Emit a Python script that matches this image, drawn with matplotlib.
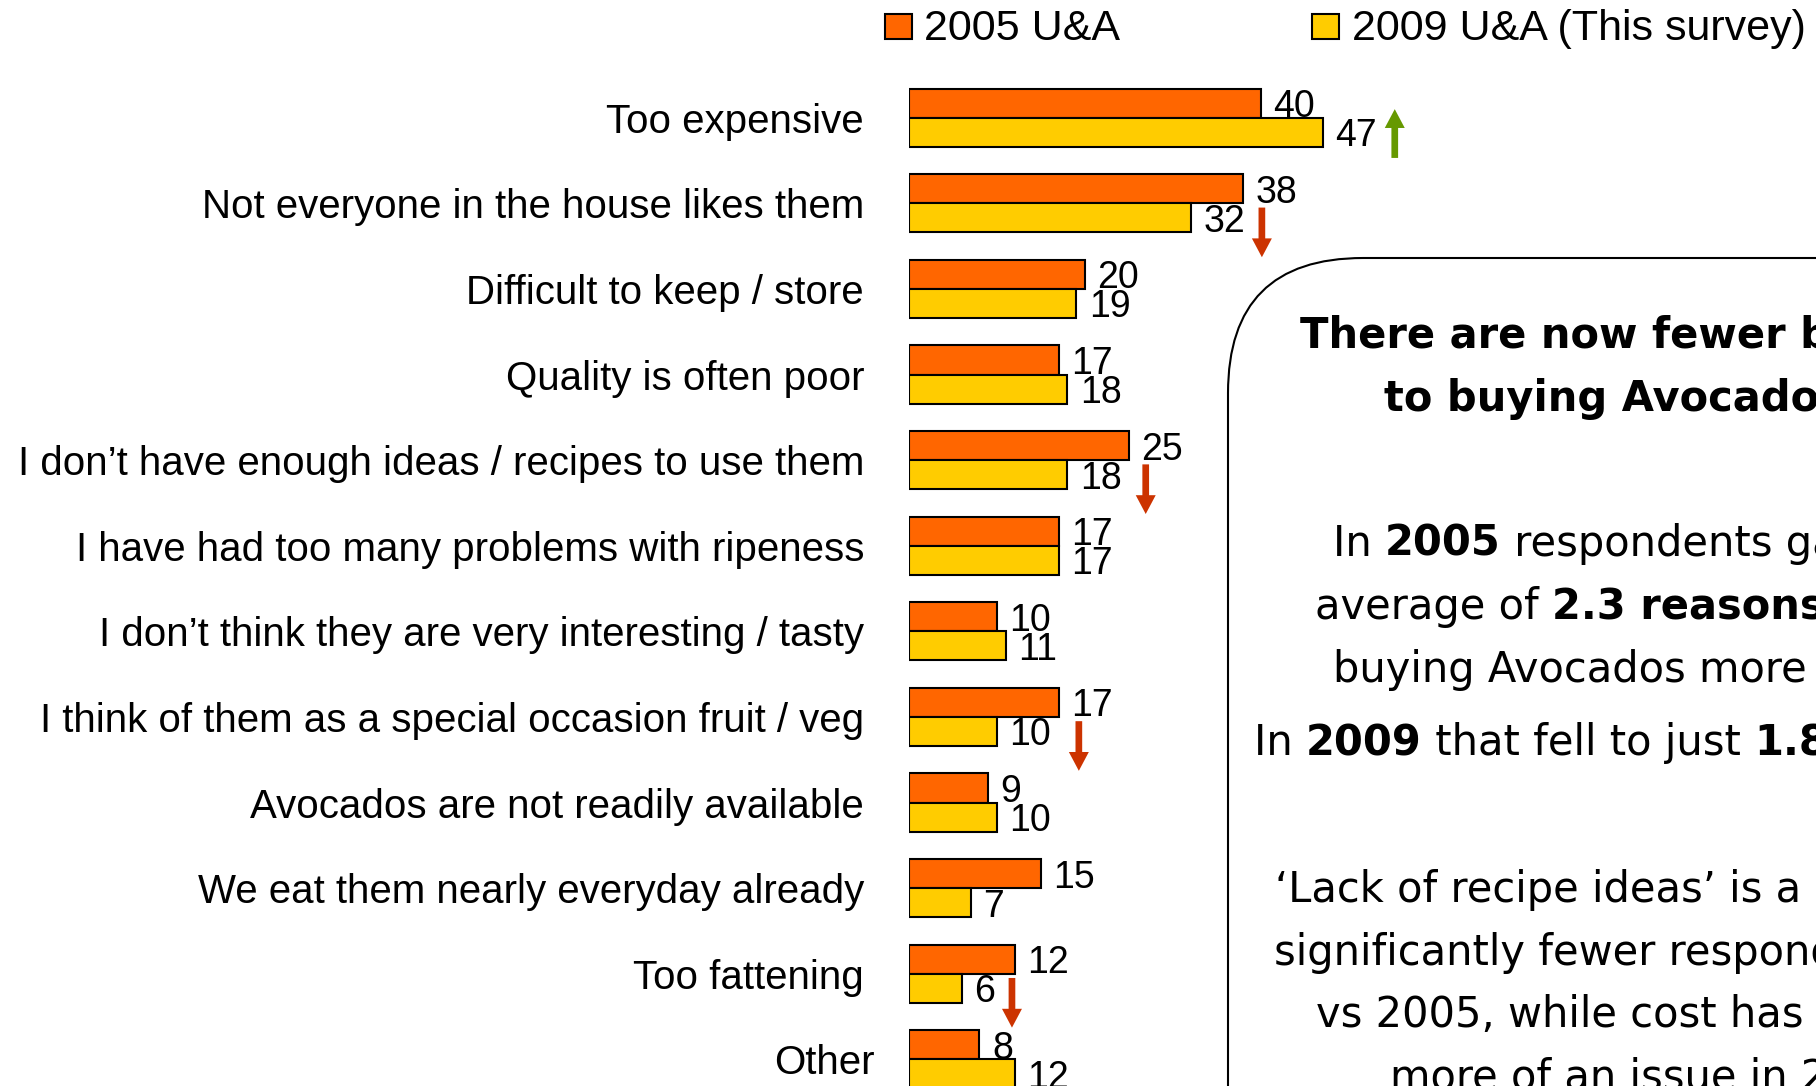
import numpy as np
import matplotlib
matplotlib.use("Agg")
import matplotlib.pyplot as plt
from matplotlib.patches import Rectangle, FancyBboxPatch, FancyArrow

# -------- data -------- #
categories = [
    "Too expensive",
    "Not everyone in the house likes them",
    "Difficult to keep / store",
    "Quality is often poor",
    "I don\u2019t have enough ideas / recipes to use them",
    "I have had too many problems with ripeness",
    "I don\u2019t think they are very interesting / tasty",
    "I think of them as a special occasion fruit / veg",
    "Avocados are not readily available",
    "We eat them nearly everyday already",
    "Too fattening",
    "Other",
]
v2005 = [40, 38, 20, 17, 25, 17, 10, 17, 9, 15, 12, 8]
v2009 = [47, 32, 19, 18, 18, 17, 11, 10, 10, 7, 6, 12]
series_names = ["2005 U&A", "2009 U&A (This survey)"]

# significance arrows: row, x position (in % units), direction
arrow_rows = [0, 1, 4, 7, 10]
arrow_x = [55.2, 40.1, 26.9, 19.3, 11.7]
arrow_dir = ["up", "down", "down", "down", "down"]

ORANGE = "#FF6600"
YELLOW = "#FFCC00"
GREEN = "#669900"
RED = "#CC3300"
LABEL_FONT = "Liberation Sans"
BOX_FONT = "DejaVu Sans"

W, H = 1816, 1086
fig = plt.figure(figsize=(W / 100, H / 100), dpi=100)

# main bar axes: x=0 sits at 909px, 8.8px per unit, rows 85.6px apart
px_unit = 8.8
row_px = 85.6
row0_px = 117.7
ax = fig.add_axes([909 / W, 0, (W - 909) / W, 1])
ax.set_xlim(0, (W - 909) / px_unit)
ax.set_ylim((H - row0_px) / row_px, -row0_px / row_px)
ax.axis("off")

rows = np.arange(len(categories))
bh = 0.339
ax.barh(rows - bh / 2, v2005, height=bh, color=ORANGE, edgecolor="black",
        linewidth=1.5, label=series_names[0])
ax.barh(rows + bh / 2, v2009, height=bh, color=YELLOW, edgecolor="black",
        linewidth=1.5, label=series_names[1])

# value labels
for r, a, b in zip(rows, v2005, v2009):
    for val, off in ((a, -bh / 2), (b, bh / 2)):
        ax.annotate(str(val), xy=(val, r + off), xytext=(9, 0),
                    textcoords="offset points", ha="left", va="center_baseline",
                    fontsize=27, family=LABEL_FONT)

# category labels (Other sits a bit closer to the bars)
for r, cat in zip(rows, categories):
    gap = 34 if cat == "Other" else 45
    ax.annotate(cat, xy=(0, r), xytext=(-gap * 0.72, 0),
                textcoords="offset points", ha="right", va="center_baseline",
                fontsize=29, family=LABEL_FONT)

# arrows
for r, x, d in zip(arrow_rows, arrow_x, arrow_dir):
    if d == "up":
        y0, dy, col = r + 0.47, -0.57, GREEN
    else:
        y0, dy, col = r + 0.05, 0.58, RED
    ax.add_patch(FancyArrow(x, y0, 0, dy, width=0.76, head_width=2.27,
                            head_length=0.22, length_includes_head=True,
                            color=col, linewidth=0))

# overlay in pixel coords for legend + commentary box
ov = fig.add_axes([0, 0, 1, 1], facecolor="none")
ov.set_xlim(0, W)
ov.set_ylim(H, 0)
ov.axis("off")

for x_sq, x_txt, col, name in ((885, 924, ORANGE, series_names[0]),
                               (1312, 1352, YELLOW, series_names[1])):
    ov.add_patch(Rectangle((x_sq, 14), 27, 25, facecolor=col,
                           edgecolor="black", linewidth=1.5))
    ov.text(x_txt, 40, name, fontsize=31, family=LABEL_FONT,
            ha="left", va="baseline")

ov.add_patch(FancyBboxPatch((1228, 258), 1000, 1000,
                            boxstyle="round,pad=0,rounding_size=135",
                            facecolor="none", edgecolor="black", linewidth=1.5))

renderer = fig.canvas.get_renderer()


def text_width(s, weight, size):
    t1 = ov.text(0, 0, s + "|", fontsize=size, fontweight=weight, family=BOX_FONT)
    t2 = ov.text(0, 0, "|", fontsize=size, fontweight=weight, family=BOX_FONT)
    w = t1.get_window_extent(renderer).width - t2.get_window_extent(renderer).width
    t1.remove()
    t2.remove()
    return w


def rich_line(x, y, runs, size=30):
    for s, weight in runs:
        ov.text(x, y, s, fontsize=size, fontweight=weight, family=BOX_FONT,
                ha="left", va="baseline")
        x += text_width(s, weight, size)


box_lines = [
    (1300, 348, [("There are now fewer barriers", "bold")]),
    (1384, 411, [("to buying Avocados", "bold")]),
    (1333, 556, [("In ", "normal"), ("2005", "bold"), (" respondents gave an", "normal")]),
    (1315, 619, [("average of ", "normal"), ("2.3 reasons", "bold"), (" for not", "normal")]),
    (1333, 682, [("buying Avocados more often.", "normal")]),
    (1254, 755, [("In ", "normal"), ("2009", "bold"), (" that fell to just ", "normal"),
                 ("1.8", "bold")]),
    (1275, 902, [("\u2018Lack of recipe ideas\u2019 is a barrier for", "normal")]),
    (1274, 965, [("significantly fewer respondents in 2009", "normal")]),
    (1316, 1027, [("vs 2005, while cost has become", "normal")]),
    (1390, 1089, [("more of an issue in 2009", "normal")]),
]
for x, y, runs in box_lines:
    rich_line(x, y, runs)

fig.savefig("out.png", dpi=100)
